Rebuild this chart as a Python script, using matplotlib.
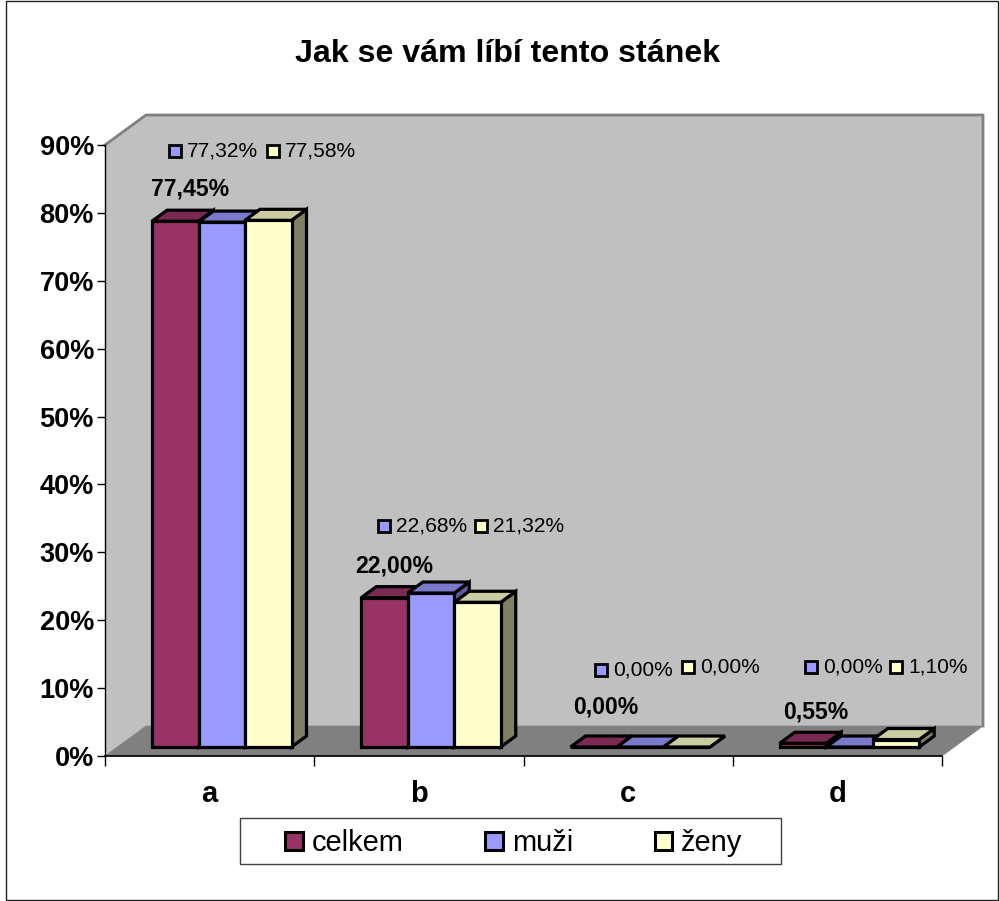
# Jak se vam libi tento stanek - fake 3D column chart
import matplotlib
matplotlib.use('Agg')
import matplotlib.pyplot as plt
from matplotlib.patches import Patch, Polygon, Rectangle

plt.rcParams['font.family'] = ['Liberation Sans', 'DejaVu Sans']

categories = ['a', 'b', 'c', 'd']
series_names = ['celkem', 'muži', 'ženy']
celkem = [77.45, 22.00, 0.00, 0.55]
muzi = [77.32, 22.68, 0.00, 0.00]
zeny = [77.58, 21.32, 0.00, 1.10]
y_ticks = [0, 10, 20, 30, 40, 50, 60, 70, 80, 90]

front = ['#993366', '#9999FF', '#FFFFCC']
top = ['#7A2952', '#7A7ACC', '#CCCCA3']
side = ['#5C1F3D', '#5C5C99', '#808066']

W, H = 1000, 901
fig = plt.figure(figsize=(W / 100, H / 100), dpi=100)


def px(x, y):
    return x / W, 1 - y / H


# axes box = front edge of the floor and left wall
x0, y0 = px(105, 756)
x1, y1 = px(942, 145)
ax = fig.add_axes([x0, y0, x1 - x0, y1 - y0])
ax.set_xlim(0, 4)
ax.set_ylim(0, 90)
ax.patch.set_visible(False)

ux = 837 / 4      # px per category
uy = 611 / 90     # px per percent
wall_dx, wall_dy = 41 / ux, 30 / uy
base_dx, base_dy = 12 / ux, 9 / uy
bar_dx, bar_dy = 15 / ux, 11 / uy
gap = 35 / ux
bar_w = 46.5 / ux


def poly(points, color, edge='black', lw=2.3, z=2):
    ax.add_patch(Polygon(points, closed=True, facecolor=color, edgecolor=edge,
                         linewidth=lw, joinstyle='miter', clip_on=False, zorder=z))


# walls and floor
poly([(0, 0), (wall_dx, wall_dy), (wall_dx, 90 + wall_dy), (0, 90)], '#C0C0C0', 'none', 0, 1)
poly([(wall_dx, wall_dy), (4 + wall_dx, wall_dy), (4 + wall_dx, 90 + wall_dy), (wall_dx, 90 + wall_dy)],
     '#C0C0C0', 'none', 0, 1)
ax.plot([0, wall_dx, 4 + wall_dx, 4 + wall_dx], [90, 90 + wall_dy, 90 + wall_dy, wall_dy],
        color='#808080', lw=2, clip_on=False, zorder=1.5)
poly([(0, 0), (4, 0), (4 + wall_dx, wall_dy), (wall_dx, wall_dy)], '#808080', '#808080', 0.5, 1.6)

# bars
for i in range(len(categories)):
    for s, vals in enumerate([celkem, muzi, zeny]):
        v = vals[i]
        xa = i + base_dx + gap + s * bar_w
        xb = xa + bar_w
        y = base_dy
        poly([(xb, y), (xb + bar_dx, y + bar_dy), (xb + bar_dx, y + v + bar_dy), (xb, y + v)], side[s])
        poly([(xa, y), (xb, y), (xb, y + v), (xa, y + v)], front[s])
        poly([(xa, y + v), (xb, y + v), (xb + bar_dx, y + v + bar_dy), (xa + bar_dx, y + v + bar_dy)], top[s])

# axes
for name in ['top', 'right']:
    ax.spines[name].set_visible(False)
ax.spines['left'].set_linewidth(1)
ax.spines['bottom'].set_linewidth(1.2)
ax.spines['left'].set_zorder(3)
ax.spines['bottom'].set_zorder(3)
ax.set_yticks(y_ticks)
ax.set_yticklabels([f'{t}%' for t in y_ticks], fontsize=19.5, fontweight='bold')
ax.tick_params(axis='y', length=6, width=1, pad=2)
ax.set_xticks(range(5))
ax.set_xticklabels([])
ax.tick_params(axis='x', which='major', length=7, width=1)
ax.set_xticks([i + 0.5 for i in range(4)], minor=True)
ax.set_xticklabels(categories, minor=True, fontsize=21, fontweight='bold')
ax.tick_params(axis='x', which='minor', length=0, pad=17)


def pct(v):
    return f'{v:.2f}%'.replace('.', ',')


# data labels: bold total plus small labels with colour keys
bold_pos = [(190, 189), (394, 566), (606, 707), (816, 712)]
blue_pos = [(175, 151), (384, 526), (601, 670), (811, 667)]
yellow_pos = [(273, 151), (481, 526), (688, 667), (896, 667)]

for i in range(4):
    bx, by = px(*bold_pos[i])
    fig.text(bx, by, pct(celkem[i]), fontsize=16.6, fontweight='bold', ha='center', va='center', zorder=5)
    for pos, vals, col in [(blue_pos[i], muzi, front[1]), (yellow_pos[i], zeny, front[2])]:
        kx, ky = px(pos[0] - 6, pos[1] + 6)
        fig.add_artist(Rectangle((kx, ky), 12 / W, 12 / H, transform=fig.transFigure,
                                 facecolor=col, edgecolor='black', linewidth=2, zorder=5))
        tx, ty = px(pos[0] + 12, pos[1])
        fig.text(tx, ty, pct(vals[i]), fontsize=15.1, ha='left', va='center', zorder=5)

fig.text(*px(508, 54), 'Jak se vám líbí tento stánek', fontsize=23.1, fontweight='bold', ha='center', va='center')

# legend box and outer border
lx, ly = px(240, 864)
fig.add_artist(Rectangle((lx, ly), 541 / W, 46 / H, transform=fig.transFigure,
                         facecolor='white', edgecolor='#404040', linewidth=1, zorder=4))
handles = [Patch(facecolor=c, edgecolor='black', linewidth=2.2) for c in front]
leg = fig.legend(handles, series_names, loc='center', bbox_to_anchor=px(514, 843), ncol=3, frameon=False,
                 fontsize=20.9, handlelength=0.6, handleheight=0.6, handletextpad=0.32, columnspacing=2.8)
leg.set_zorder(5)
lx, ly = px(6, 900)
fig.add_artist(Rectangle((lx, ly), 992 / W, 899 / H, transform=fig.transFigure,
                         facecolor='none', edgecolor='#202020', linewidth=1, zorder=6))

fig.savefig('out.png', dpi=100, facecolor='white')
